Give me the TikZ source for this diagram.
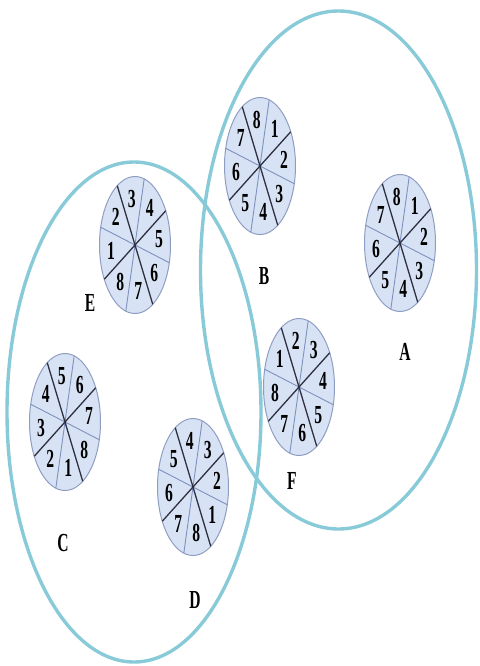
\documentclass[tikz,border=0pt]{standalone}
\usepackage{fontspec}
\setmainfont{Liberation Serif}
\usepackage{tikz}
\usetikzlibrary{positioning}

\definecolor{ringcyan}{HTML}{88CAD8}
\definecolor{piefill}{HTML}{D7E3F5}
\definecolor{pieedge}{HTML}{8E9DC2}
\definecolor{lightcut}{HTML}{7F90BE}
\definecolor{darkcut}{HTML}{2E3040}

% pie: name, centre x, centre y, label in upper right sector, +1 clockwise / -1 anticlockwise
\newcommand{\drawpie}[5]{%
  \begin{scope}[shift={(#2,#3)}, x=35.5pt, y=68.5pt]
    \draw[piebody] (0,0) coordinate (#1) ellipse [x radius=1, y radius=1];
    \draw[pielight] (75:1) -- (255:1);
    \draw[pielight] (165:1) -- (345:1);
    \draw[piedark] (30:1) -- (210:1);
    \draw[piedark] (120:1) -- (300:1);
    \foreach \k in {0,...,7} {
      \pgfmathtruncatemacro{\num}{mod(#4-1+#5*\k+16,8)+1}
      \node[digit] (#1-\k) at ({52.5-45*\k}:0.68) {\num};
    }
  \end{scope}}

\begin{document}
\begin{tikzpicture}[
    x=1pt, y=-1pt,
    ring/.style={draw=ringcyan, line width=3.4pt},
    piebody/.style={fill=piefill, draw=pieedge, line width=1pt},
    pielight/.style={draw=lightcut, line width=0.9pt},
    piedark/.style={draw=darkcut, line width=1.3pt},
    digit/.style={inner sep=0pt, font=\fontsize{26}{26}\selectfont\bfseries, xscale=0.6},
    tag/.style={inner sep=0pt, font=\fontsize{26}{26}\selectfont\bfseries, xscale=0.6}
]
    \useasboundingbox (0,0) rectangle (479,666);

    % the two groups
    \draw[ring] (338.5,270) ellipse [x radius=138, y radius=259];
    \draw[ring] (134,412) ellipse [x radius=127, y radius=250];

    % the six pies
    \drawpie{pieA}{400}{243}{1}{1}
    \drawpie{pieB}{260}{166}{1}{1}
    \drawpie{pieE}{135}{245}{4}{1}
    \drawpie{pieF}{299}{387}{3}{1}
    \drawpie{pieC}{65}{422}{6}{1}
    \drawpie{pieD}{193}{487}{3}{-1}

    \node[tag] (tagA) at (405,352) {A};
    \node[tag] (tagB) at (264,276) {B};
    \node[tag] (tagE) at (90,303) {E};
    \node[tag] (tagF) at (292,481) {F};
    \node[tag] (tagC) at (63,543) {C};
    \node[tag] (tagD) at (195,600) {D};
\end{tikzpicture}
\end{document}
